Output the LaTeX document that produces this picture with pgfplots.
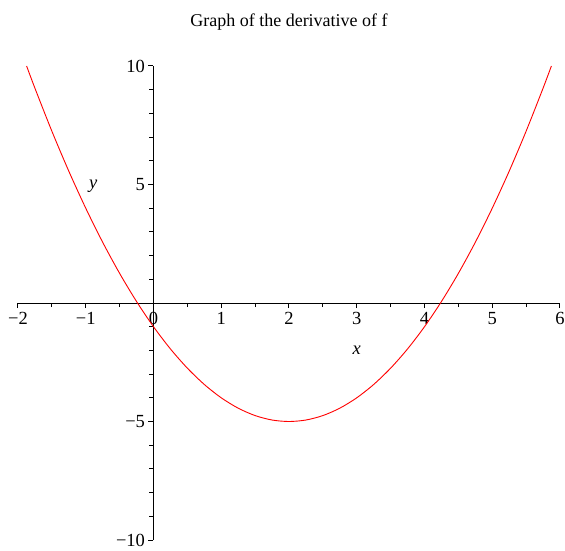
\documentclass[border=0pt]{standalone}
\usepackage{pgfplots}
\pgfplotsset{compat=1.18}
\usepackage{fontspec}
\setmainfont{Liberation Serif}
\begin{document}
\begin{tikzpicture}
\path[use as bounding box] (-18pt,-10pt) rectangle (547pt,540pt);
\begin{axis}[
  at={(0,0)}, anchor=south west,
  scale only axis, width=542pt, height=474pt,
  xmin=-2, xmax=6, ymin=-10, ymax=10,
  axis lines=middle,
  axis line style={-, line width=1pt},
  tick align=outside,
  major tick length=5pt, minor tick length=4pt,
  every tick/.style={black, line width=1pt},
  xtick={-2,-1,0,1,2,3,4,5,6},
  xticklabels={−2,−1,0,1,2,3,4,5,6},
  minor xtick={-1.5,-0.5,0.5,1.5,2.5,3.5,4.5,5.5},
  ytick={-10,-5,5,10},
  yticklabels={−10,−5,5,10},
  minor ytick={-9,-8,-7,-6,-4,-3,-2,-1,1,2,3,4,6,7,8,9},
  hide obscured x ticks=false,
  hide obscured y ticks=false,
  x tick label style={font=\fontsize{18.5}{21}\selectfont, yshift=-1pt},
  y tick label style={font=\fontsize{18.5}{21}\selectfont},
  title={Graph of the derivative of f},
  title style={font=\fontsize{18}{21}\selectfont, yshift=26pt},
  clip=true,
]
\addplot[red, line width=0.9pt, smooth] coordinates {
  (-1.873,10.000) (-1.75,9.0625) (-1.5,7.25) (-1.25,5.5625) (-1,4)
  (-0.75,2.5625) (-0.5,1.25) (-0.25,0.0625) (0,-1) (0.25,-1.9375)
  (0.5,-2.75) (0.75,-3.4375) (1,-4) (1.25,-4.4375) (1.5,-4.75)
  (1.75,-4.9375) (2,-5) (2.25,-4.9375) (2.5,-4.75) (2.75,-4.4375)
  (3,-4) (3.25,-3.4375) (3.5,-2.75) (3.75,-1.9375) (4,-1)
  (4.25,0.0625) (4.5,1.25) (4.75,2.5625) (5,4) (5.25,5.5625)
  (5.5,7.25) (5.75,9.0625) (5.873,10.000)
};
\node[font=\fontsize{18.5}{21}\selectfont\itshape] at (axis cs:3,-2.0) {x};
\node[font=\fontsize{18.5}{21}\selectfont\itshape] at (axis cs:-0.89,4.94) {y};
\end{axis}
\end{tikzpicture}
\end{document}
